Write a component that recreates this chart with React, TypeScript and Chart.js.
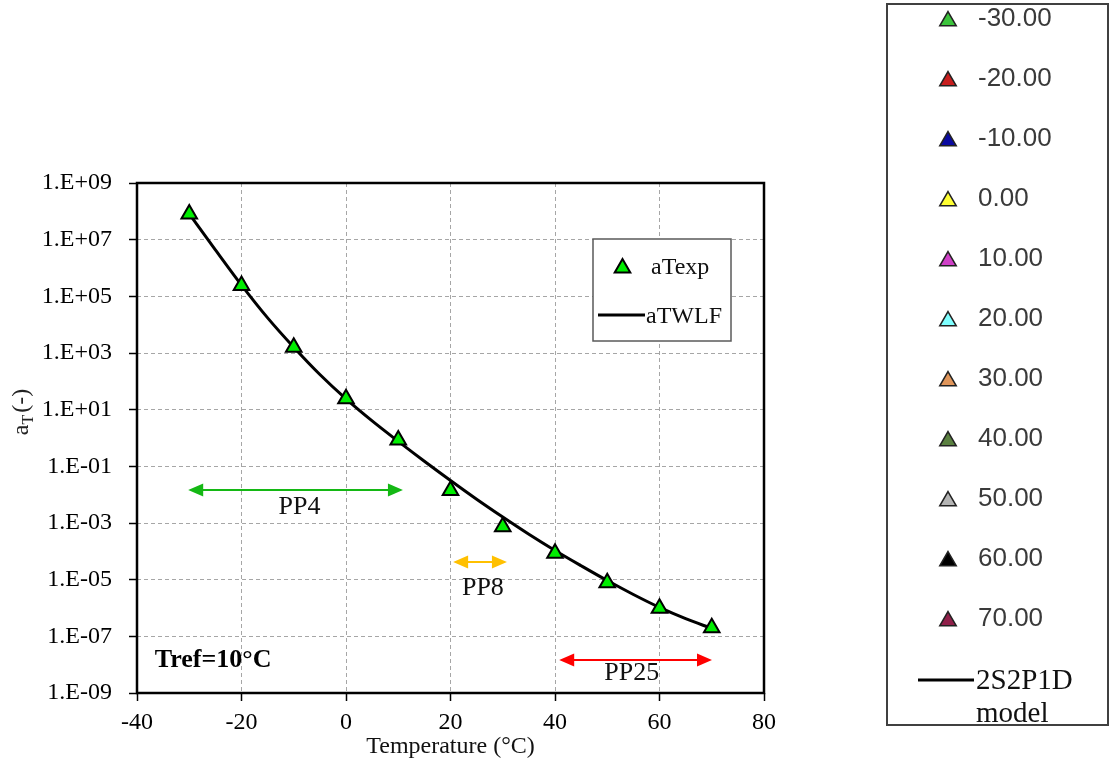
import React, { useEffect, useRef } from 'react';
import { Chart, registerables } from 'chart.js';

Chart.register(...registerables);

// ---- data ----
const temperatures = [-30, -20, -10, 0, 10, 20, 30, 40, 50, 60, 70];
const aTexp = [8.1e7, 2.4e5, 1.6e3, 24.5, 0.85, 0.014, 7.4e-4, 8.5e-5, 7.8e-6, 9.8e-7, 2.0e-7];

const wlfTemperatures = [-30, -25, -20, -15, -10, -5, 0, 5, 10, 15, 20, 25, 30, 35, 40, 45, 50, 55, 60, 65, 70];
const aTWLF = [8.1e7, 4.4e6, 2.5e5, 1.74e4, 1.6e3, 174, 24, 4.0, 0.76, 0.151, 0.0316, 6.9e-3, 1.62e-3, 4.0e-4, 1.07e-4, 3.1e-5, 9.3e-6, 3.0e-6, 1.05e-6, 4.2e-7, 1.9e-7];

const yTickExponents = [-9, -7, -5, -3, -1, 1, 3, 5, 7, 9];

const legendLabels = ['-30.00', '-20.00', '-10.00', '0.00', '10.00', '20.00', '30.00', '40.00', '50.00', '60.00', '70.00'];
const legendColors = ['#3cc43c', '#c81e1e', '#0a0aa0', '#ffff33', '#d040c8', '#7fffff', '#e0955a', '#5a8040', '#b4b4b4', '#000000', '#90204a'];

const rangeNames = ['PP4', 'PP8', 'PP25'];
const rangeStart = [-30.2, 20.5, 40.8];
const rangeEnd = [10.9, 30.8, 70.05];
const rangeY = [0.0145, 4.2e-5, 1.45e-8];
const rangeLabelX = [-8.9, 26.2, 54.7];
const rangeLabelY = [3.5e-3, 5e-6, 5e-9];
const rangeColors = ['#14b814', '#ffc000', '#ff0000'];

const SERIF = '"Liberation Serif", "Times New Roman", serif';

function triangle(ctx: CanvasRenderingContext2D, x: number, y: number, r: number, fill: string, stroke: string, bw: number) {
  const a = (2 * Math.PI) / 3;
  ctx.beginPath();
  ctx.moveTo(x, y - r);
  ctx.lineTo(x + Math.sin(a) * r, y - Math.cos(a) * r);
  ctx.lineTo(x + Math.sin(2 * a) * r, y - Math.cos(2 * a) * r);
  ctx.closePath();
  ctx.fillStyle = fill;
  ctx.fill();
  ctx.lineWidth = bw;
  ctx.strokeStyle = stroke;
  ctx.lineJoin = 'miter';
  ctx.stroke();
}

function arrow(ctx: CanvasRenderingContext2D, x1: number, x2: number, y: number, color: string) {
  const hl = 15;
  const hw = 6.5;
  ctx.save();
  ctx.strokeStyle = color;
  ctx.fillStyle = color;
  ctx.lineWidth = 2;
  ctx.beginPath();
  ctx.moveTo(x1 + hl - 2, y);
  ctx.lineTo(x2 - hl + 2, y);
  ctx.stroke();
  ctx.beginPath();
  ctx.moveTo(x1, y);
  ctx.lineTo(x1 + hl, y - hw);
  ctx.lineTo(x1 + hl, y + hw);
  ctx.closePath();
  ctx.fill();
  ctx.beginPath();
  ctx.moveTo(x2, y);
  ctx.lineTo(x2 - hl, y - hw);
  ctx.lineTo(x2 - hl, y + hw);
  ctx.closePath();
  ctx.fill();
  ctx.restore();
}

const decorPlugin = {
  id: 'decor',
  afterDraw(chart: any) {
    const ctx: CanvasRenderingContext2D = chart.ctx;
    const { left, right, top, bottom } = chart.chartArea;
    const xs = chart.scales.x;
    const ys = chart.scales.y;
    ctx.save();

    // plot border
    ctx.strokeStyle = '#000';
    ctx.lineWidth = 2.5;
    ctx.strokeRect(left, top, right - left, bottom - top);

    // range arrows and labels
    ctx.font = `26px ${SERIF}`;
    ctx.fillStyle = '#111';
    ctx.textAlign = 'center';
    ctx.textBaseline = 'middle';
    for (let i = 0; i < rangeNames.length; i++) {
      arrow(ctx, xs.getPixelForValue(rangeStart[i]), xs.getPixelForValue(rangeEnd[i]), ys.getPixelForValue(rangeY[i]), rangeColors[i]);
      ctx.fillStyle = '#111';
      ctx.fillText(rangeNames[i], xs.getPixelForValue(rangeLabelX[i]), ys.getPixelForValue(rangeLabelY[i]));
    }

    // Tref label
    ctx.font = `bold 26px ${SERIF}`;
    ctx.textAlign = 'left';
    ctx.fillStyle = '#000';
    ctx.fillText('Tref=10°C', xs.getPixelForValue(-36.6), ys.getPixelForValue(1.45e-8));

    // y axis title: a_T (-)
    ctx.save();
    ctx.translate(20, 412);
    ctx.rotate(-Math.PI / 2);
    ctx.fillStyle = '#222';
    ctx.textBaseline = 'alphabetic';
    ctx.font = `24px ${SERIF}`;
    const wA = ctx.measureText('a').width;
    ctx.font = `16px ${SERIF}`;
    const wT = ctx.measureText('T').width;
    ctx.font = `24px ${SERIF}`;
    const wP = ctx.measureText('(-)').width;
    let cx = -(wA + wT + wP + 2) / 2;
    ctx.fillText('a', cx, 8);
    cx += wA;
    ctx.font = `16px ${SERIF}`;
    ctx.fillText('T', cx, 13);
    cx += wT + 2;
    ctx.font = `24px ${SERIF}`;
    ctx.fillText('(-)', cx, 8);
    ctx.restore();

    // inner legend
    ctx.fillStyle = '#fff';
    ctx.fillRect(593, 239, 138, 102);
    ctx.strokeStyle = '#5a5a5a';
    ctx.lineWidth = 1.5;
    ctx.strokeRect(593, 239, 138, 102);
    triangle(ctx, 622.5, 268, 9, '#00ee00', '#000', 2);
    ctx.font = `24px ${SERIF}`;
    ctx.fillStyle = '#111';
    ctx.textAlign = 'left';
    ctx.textBaseline = 'alphabetic';
    ctx.fillText('aTexp', 651, 274);
    ctx.strokeStyle = '#000';
    ctx.lineWidth = 3;
    ctx.beginPath();
    ctx.moveTo(598, 315);
    ctx.lineTo(645, 315);
    ctx.stroke();
    ctx.fillText('aTWLF', 646, 323);

    // right legend box
    ctx.fillStyle = '#fff';
    ctx.fillRect(887, 4, 221, 721);
    ctx.strokeStyle = '#404040';
    ctx.lineWidth = 2;
    ctx.strokeRect(887, 4, 221, 721);
    ctx.font = `26px "Liberation Sans", Arial, sans-serif`;
    ctx.textBaseline = 'middle';
    for (let i = 0; i < legendLabels.length; i++) {
      const cy = 19 + i * 60;
      triangle(ctx, 948, cy + 2, 9.5, legendColors[i], '#222', 1.5);
      ctx.fillStyle = '#3a3a3a';
      ctx.fillText(legendLabels[i], 978, cy);
    }
    ctx.strokeStyle = '#000';
    ctx.lineWidth = 3;
    ctx.beginPath();
    ctx.moveTo(918, 680);
    ctx.lineTo(974, 680);
    ctx.stroke();
    ctx.font = `29px ${SERIF}`;
    ctx.fillStyle = '#111';
    ctx.fillText('2S2P1D', 976, 681);
    ctx.fillText('model', 976, 714);

    ctx.restore();
  },
};

function formatExp(v: number): string {
  const e = Math.round(Math.log10(v));
  const s = e < 0 ? '-' : '+';
  const a = Math.abs(e);
  return `1.E${s}${a < 10 ? '0' + a : a}`;
}

export default function App() {
  const canvasRef = useRef<HTMLCanvasElement | null>(null);

  useEffect(() => {
    document.body.style.margin = '0';
    const canvas = canvasRef.current;
    if (!canvas) return;
    const chart = new Chart(canvas, {
      type: 'scatter',
      data: {
        datasets: [
          {
            label: 'aTexp',
            data: temperatures.map((t, i) => ({ x: t, y: aTexp[i] })),
            showLine: false,
            pointStyle: 'triangle',
            pointRadius: 9,
            pointHoverRadius: 9,
            backgroundColor: '#00ee00',
            borderColor: '#000',
            pointBorderWidth: 2,
          },
          {
            label: 'aTWLF',
            data: wlfTemperatures.map((t, i) => ({ x: t, y: aTWLF[i] })),
            showLine: true,
            borderColor: '#000',
            borderWidth: 3,
            pointRadius: 0,
            cubicInterpolationMode: 'monotone',
          },
        ],
      },
      options: {
        animation: false,
        responsive: true,
        maintainAspectRatio: false,
        layout: { padding: { top: 183, right: 346, left: 0, bottom: 0 } },
        plugins: { legend: { display: false }, tooltip: { enabled: false } },
        scales: {
          x: {
            type: 'linear',
            min: -40,
            max: 80,
            afterFit: (s: any) => { s.height = 72; },
            ticks: { stepSize: 20, padding: 7, color: '#000', font: { family: SERIF, size: 24 } },
            grid: { color: '#a6a6a6', lineWidth: 1, tickColor: '#000', tickLength: 8, tickWidth: 1.5, tickBorderDash: [] },
            border: { display: false, dash: [4, 3] },
            title: { display: true, text: 'Temperature (°C)', color: '#111', font: { family: SERIF, size: 24 }, padding: { top: 0, bottom: 4 } },
          },
          y: {
            type: 'logarithmic',
            min: 1e-9,
            max: 1e9,
            afterFit: (s: any) => { s.width = 137; },
            afterBuildTicks: (s: any) => { s.ticks = yTickExponents.map((e) => ({ value: Math.pow(10, e) })); },
            ticks: { padding: 17, color: '#000', font: { family: SERIF, size: 24 }, callback: (v: any) => formatExp(Number(v)) },
            grid: { color: '#a6a6a6', lineWidth: 1, tickColor: '#000', tickLength: 8, tickWidth: 1.5, tickBorderDash: [] },
            border: { display: false, dash: [4, 3] },
          },
        },
      },
      plugins: [decorPlugin],
    } as any);
    return () => chart.destroy();
  }, []);

  return (
    <div style={{ position: 'relative', width: 1110, height: 765 }}>
      <canvas ref={canvasRef} />
    </div>
  );
}
